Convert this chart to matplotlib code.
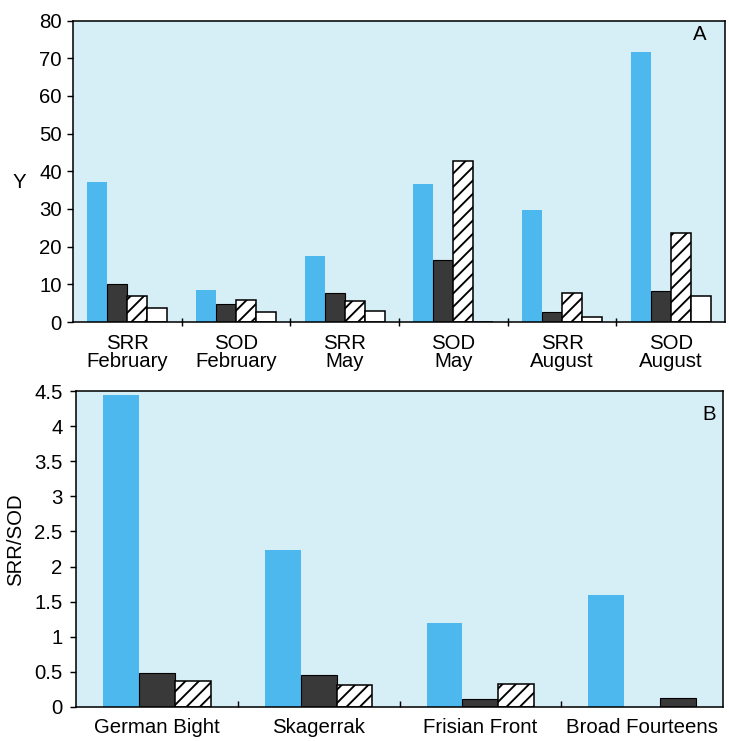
import numpy as np
import matplotlib
matplotlib.use("Agg")
import matplotlib.pyplot as plt
from matplotlib.ticker import FixedLocator, FuncFormatter

# ---- data -------------------------------------------------------------
a_groups = ["SRR\nFebruary", "SOD\nFebruary", "SRR\nMay", "SOD\nMay",
            "SRR\nAugust", "SOD\nAugust"]
a_blue = [37.1, 8.6, 17.6, 36.5, 29.6, 71.6]
a_dark = [10.2, 4.8, 7.6, 16.4, 2.6, 8.1]
a_hatch = [7.0, 5.8, 5.7, 42.8, 7.8, 23.7]
a_white = [3.8, 2.6, 3.0, 0.0, 1.2, 7.0]
a_yticks = [0, 10, 20, 30, 40, 50, 60, 70, 80]

b_groups = ["German Bight", "Skagerrak", "Frisian Front", "Broad Fourteens"]
b_blue = [4.44, 2.24, 1.20, 1.59]
b_dark = [0.48, 0.46, 0.12, 0.13]
b_hatch = [0.37, 0.32, 0.33, 0.0]
b_yticks = [0, 0.5, 1, 1.5, 2, 2.5, 3, 3.5, 4, 4.5]

# ---- style ------------------------------------------------------------
DPI = 80
BG = "#d6eef6"
BLUE = "#4cb8ee"
DARK = "#393939"
FS = 18.3
plt.rcParams["font.family"] = ["Liberation Sans", "DejaVu Sans"]
plt.rcParams["hatch.linewidth"] = 1.7
plt.rcParams["hatch.color"] = "black"

W, H = 729, 741
fig = plt.figure(figsize=(W / DPI, H / DPI), dpi=DPI)


def px_axes(left, top, right, bottom):
    return fig.add_axes([left / W, 1 - bottom / H, (right - left) / W,
                         (bottom - top) / H])


def style_axes(ax):
    ax.set_facecolor(BG)
    for s in ax.spines.values():
        s.set_linewidth(1.4)
    ax.tick_params(axis="y", direction="out", length=5, width=1.3,
                   labelsize=FS, pad=5)
    ax.tick_params(axis="x", which="major", length=0, labelsize=FS)


# ---- panel A ------------------------------------------------------------
axA = px_axes(73, 20.5, 725, 322)
style_axes(axA)
n = len(a_groups)
xa = np.arange(n) + 0.5
wa = 0.184
series_a = [(a_blue, dict(color=BLUE, edgecolor="none")),
            (a_dark, dict(color=DARK, edgecolor="black", linewidth=1.0)),
            (a_hatch, dict(facecolor="white", edgecolor="black",
                           linewidth=1.4, hatch="//")),
            (a_white, dict(facecolor="white", edgecolor="black",
                           linewidth=1.4))]
for i, (vals, kw) in enumerate(series_a):
    axA.bar(xa + (i - 1.5) * wa, vals, width=wa, zorder=2, **kw)
axA.set_xlim(0, n)
axA.set_ylim(0, 80)
axA.set_yticks(a_yticks)
axA.set_xticks(xa)
axA.set_xticklabels(a_groups, linespacing=0.9)
axA.tick_params(axis="x", which="major", pad=11)
axA.xaxis.set_minor_locator(FixedLocator(np.arange(1, n)))
axA.tick_params(axis="x", which="minor", direction="inout", length=8,
                width=1.3)
axA.text(700, H - 35, "A", transform=None, fontsize=FS, ha="center",
         va="center")

# ---- panel B ------------------------------------------------------------
axB = px_axes(76, 391, 723, 707)
style_axes(axB)
m = len(b_groups)
xb = np.arange(m) + 0.5
wb = 0.222
# the dark bar moves into the last slot where a group has no hatched bar
dark_slot = np.where(np.array(b_hatch) > 0, 0, 1)
axB.bar(xb - wb, b_blue, width=wb, color=BLUE, edgecolor="none", zorder=2)
axB.bar(xb + dark_slot * wb, b_dark, width=wb, color=DARK,
        edgecolor="black", linewidth=1.0, zorder=2)
hb = np.array(b_hatch)
mask = hb > 0
axB.bar(xb[mask] + wb, hb[mask], width=wb, facecolor="white",
        edgecolor="black", linewidth=1.4, hatch="//", zorder=2)
axB.set_xlim(0, m)
axB.set_ylim(0, 4.5)
axB.set_yticks(b_yticks)
axB.yaxis.set_major_formatter(FuncFormatter(lambda v, p: f"{v:g}"))
axB.tick_params(axis="y", pad=7)
axB.set_xticks(xb)
axB.set_xticklabels(b_groups)
axB.tick_params(axis="x", which="major", pad=10)
axB.xaxis.set_minor_locator(FixedLocator(np.arange(1, m)))
axB.tick_params(axis="x", which="minor", direction="in", length=5,
                width=1.3)
axB.text(709, H - 414, "B", transform=None, fontsize=FS, ha="center",
         va="center")

# ---- axis titles ----------------------------------------------------------
fig.text(19 / W, 1 - 182.5 / H, "Y", fontsize=FS, ha="center", va="center")
fig.text(16 / W, 1 - 540 / H, "SRR/SOD", fontsize=FS, ha="center",
         va="center", rotation=90)

fig.savefig("out.png", dpi=DPI, facecolor="white")
